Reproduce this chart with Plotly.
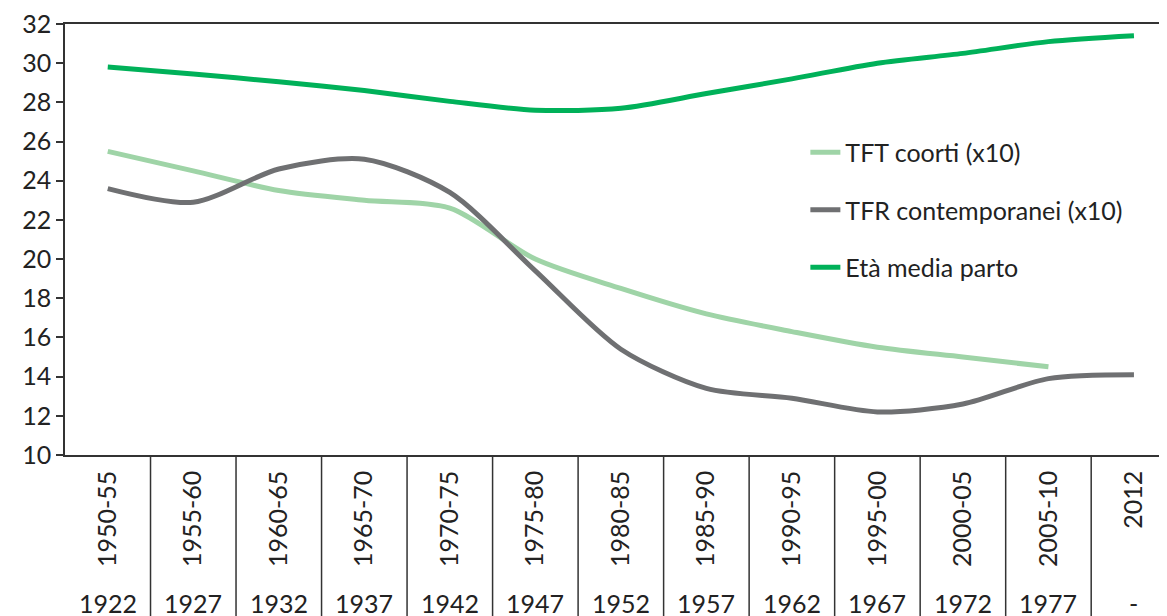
import plotly.graph_objects as go

periods = ["1950-55", "1955-60", "1960-65", "1965-70", "1970-75", "1975-80", "1980-85",
           "1985-90", "1990-95", "1995-00", "2000-05", "2005-10", "2012"]
cohorts = ["1922", "1927", "1932", "1937", "1942", "1947", "1952",
           "1957", "1962", "1967", "1972", "1977", "-"]

tft_coorti = [25.5, 24.5, 23.5, 23.0, 22.6, 20.0, 18.5, 17.2, 16.3, 15.5, 15.0, 14.5, None]
tfr_contemporanei = [23.6, 22.9, 24.6, 25.1, 23.4, 19.4, 15.4, 13.4, 12.9, 12.2, 12.6, 13.9, 14.1]
eta_media_parto = [29.8, 29.45, 29.05, 28.6, 28.05, 27.6, 27.7, 28.45, 29.2, 30.0, 30.5, 31.1, 31.4]

x = list(range(len(periods)))
FONT = "Lato"
AX = "#333333"
TXT = "#222222"

fig = go.Figure()
series = [
    ("TFT coorti (x10)", tft_coorti, "#9fd4a7"),
    ("TFR contemporanei (x10)", tfr_contemporanei, "#6f7072"),
    ("Età media parto", eta_media_parto, "#00b159"),
]
for i, (name, vals, col) in enumerate(series):
    fig.add_trace(go.Scatter(
        x=x, y=vals, name=name, mode="lines", legendgroup=str(i),
        line=dict(color=col, width=5, shape="spline", smoothing=0.8),
        connectgaps=False,
    ))

# separators in the label area and bottom cohort labels
for i in range(len(periods)):
    if i < len(periods) - 1:
        fig.add_shape(type="line", xref="x", yref="paper", x0=i + 0.5, x1=i + 0.5,
                      y0=0, y1=-0.45, line=dict(color=AX, width=1.5))
    fig.add_annotation(x=i, y=-0.343, xref="x", yref="paper", text=cohorts[i],
                       showarrow=False, yanchor="middle",
                       font=dict(family=FONT, size=25, color=TXT))

fig.update_layout(
    width=1167, height=616,
    margin=dict(l=57, r=0, t=16, b=169, autoexpand=False),
    paper_bgcolor="white", plot_bgcolor="white",
    font=dict(family=FONT, size=25, color=TXT),
    showlegend=True,
    legend=dict(x=0.667, y=0.755, xanchor="left", yanchor="top",
                font=dict(family=FONT, size=25, color=TXT),
                tracegroupgap=22, bgcolor="rgba(0,0,0,0)"),
    xaxis=dict(
        tickmode="array", tickvals=x, ticktext=periods, tickangle=-90,
        range=[-0.5, 12.48], showgrid=False, zeroline=False,
        showline=True, mirror=True, linecolor=AX, linewidth=1.5,
        ticks="", ticklabelstandoff=4, ticklabeloverflow="allow",
        tickfont=dict(family=FONT, size=25, color=TXT),
    ),
    yaxis=dict(
        range=[10, 32], dtick=2, tick0=10, showgrid=False, zeroline=False,
        showline=True, linecolor=AX, linewidth=1.5,
        ticks="outside", ticklen=7, tickcolor=AX, tickwidth=1.5,
        ticklabeloverflow="allow",
        tickfont=dict(family=FONT, size=25, color=TXT),
    ),
)

fig.write_html("out.html")
